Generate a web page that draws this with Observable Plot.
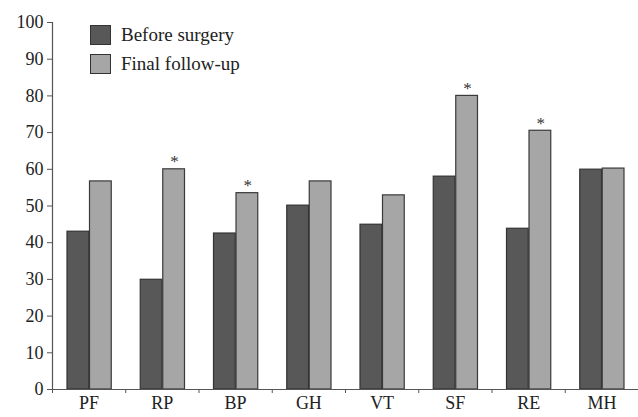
<!DOCTYPE html>
<html><head><meta charset="utf-8">
<script src="https://cdn.jsdelivr.net/npm/d3@7"></script>
<script src="https://cdn.jsdelivr.net/npm/@observablehq/plot@0.6"></script>
<style>
body{margin:0;background:#fff;}
#wrap{position:relative;width:638px;height:417px;font-family:"Liberation Serif","Times New Roman","DejaVu Serif",serif;}
#wrap svg g[aria-label$="tick label"]{font-family:"Liberation Serif","Times New Roman","DejaVu Serif",serif;font-size:18px;}
.leg{position:absolute;left:90px;display:flex;align-items:center;font-size:19px;color:#222;}
.sw{width:19px;height:18px;border:1.5px solid #333;margin-right:10px;}
</style></head>
<body><div id="wrap"></div>
<script>
const categories = ["PF","RP","BP","GH","VT","SF","RE","MH"];
const beforeSurgery = [43.0, 29.9, 42.5, 50.1, 44.9, 58.0, 43.8, 59.9];
const finalFollowUp = [56.7, 60.0, 53.5, 56.7, 52.9, 80.0, 70.5, 60.2];
const significant = ["RP","BP","SF","RE"];
const seriesNames = ["Before surgery","Final follow-up"];
const yTicks = [0,10,20,30,40,50,60,70,80,90,100];

const data = categories.map((c,i)=>({cat:c, before:beforeSurgery[i], final:finalFollowUp[i]}));
const stars = data.filter(d=>significant.includes(d.cat));
const W = 638, ML = 52, MR = 0;
const step = (W-ML-MR)/categories.length;

const chart = Plot.plot({
  width: W, height: 417,
  marginLeft: ML, marginRight: MR, marginTop: 22, marginBottom: 28,
  style: {fontFamily: "'Liberation Serif','Times New Roman','DejaVu Serif',serif", fontSize: "18px", color: "#222", background: "#fff"},
  x: {type: "band", domain: categories, padding: 0, round: false, label: null},
  y: {domain: [0,100], label: null},
  marks: [
    Plot.barY(data, {x:"cat", y:"before", insetLeft:15, insetRight:36.5, fill:"#585858", stroke:"#333", strokeWidth:1.2}),
    Plot.barY(data, {x:"cat", y:"final", insetLeft:37.5, insetRight:14, fill:"#a6a6a6", stroke:"#3a3a3a", strokeWidth:1.2}),
    Plot.text(stars, {x:"cat", y:"final", text:()=>"*", dx:12, dy:-2, lineAnchor:"bottom", fontSize:17, fill:"#333"}),
    Plot.ruleY([0], {stroke:"#555", strokeWidth:1.2}),
    Plot.ruleX([categories[0]], {dx:-step/2, y1:0, y2:100, stroke:"#555", strokeWidth:1.2}),
    Plot.axisY({ticks: yTicks, tickSize:5, tickPadding:4, stroke:"#555", label:null}),
    Plot.axisX({tickSize:0, tickPadding:7, label:null}),
    Plot.axisX({tickSize:4, tickFormat:()=>"", dx:-step/2, stroke:"#555", label:null})
  ]
});
const wrap = document.getElementById("wrap");
wrap.appendChild(chart);
const fills = ["#585858","#a6a6a6"];
const tops = [24,53];
seriesNames.forEach((n,i)=>{
  const d = document.createElement("div");
  d.className = "leg"; d.style.top = tops[i]+"px";
  d.innerHTML = `<div class="sw" style="background:${fills[i]}"></div><span>${n}</span>`;
  wrap.appendChild(d);
});
</script></body></html>
